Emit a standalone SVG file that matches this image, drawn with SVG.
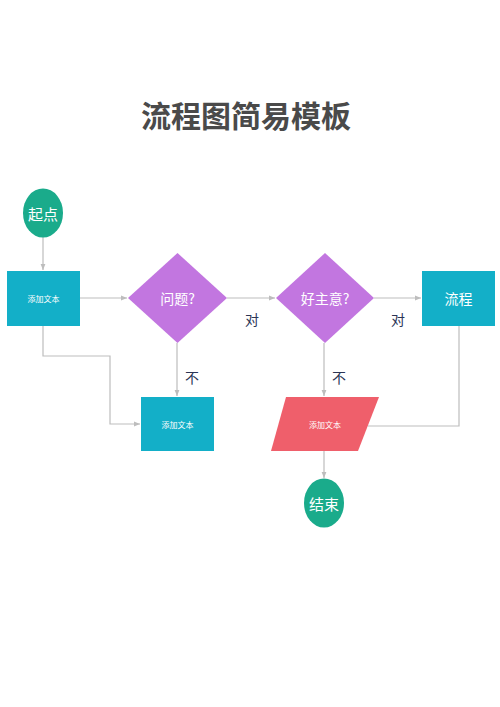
<svg xmlns="http://www.w3.org/2000/svg" width="500" height="707" viewBox="0 0 500 707">
<style>
text{font-family:"Noto Sans CJK SC","Noto Sans",sans-serif;text-anchor:middle;dominant-baseline:central}
.w{fill:#fff}
.lbl{fill:#2b3555;font-size:14px}
.c{fill:none;stroke:#bdbdbd;stroke-width:1.2}
.teal{fill:#13afc8}
.pur{fill:#c276e0}
.grn{fill:#1aab8b}
.red{fill:#ef5f6b}
</style>
<defs>
<marker id="ah" viewBox="0 0 10 10" refX="10" refY="5" markerWidth="6" markerHeight="6" orient="auto" markerUnits="userSpaceOnUse">
<path d="M0,1 L10,5 L0,9 z" fill="#bdbdbd"/>
</marker>
</defs>
<rect width="500" height="707" fill="#fff"/>
<text x="246" y="114" font-size="30" font-weight="bold" fill="#4a4a4a">流程图简易模板</text>
<g id="connectors">
<path class="c" d="M43,237 V270" marker-end="url(#ah)"/>
<path class="c" d="M80,298 H127" marker-end="url(#ah)"/>
<path class="c" d="M227,298 H275" marker-end="url(#ah)"/>
<path class="c" d="M374,298 H421" marker-end="url(#ah)"/>
<path class="c" d="M177,343 V396" marker-end="url(#ah)"/>
<path class="c" d="M324,343 V396" marker-end="url(#ah)"/>
<path class="c" d="M43,326 V356 H110 V424 H140" marker-end="url(#ah)"/>
<path class="c" d="M459,326 V426 H368"/>
<path class="c" d="M324,451 V478" marker-end="url(#ah)"/>
<text class="lbl" x="252" y="319">对</text>
<text class="lbl" x="398" y="319">对</text>
<text class="lbl" x="192" y="377">不</text>
<text class="lbl" x="339" y="377">不</text>
</g>
<g id="start">
<ellipse class="grn" cx="43" cy="213" rx="20" ry="24.5"/>
<text class="w" x="43" y="213" font-size="15">起点</text>
</g>
<g id="box1">
<rect class="teal" x="7" y="271" width="73" height="55"/>
<text class="w" x="43.5" y="298" font-size="8">添加文本</text>
</g>
<g id="q1">
<polygon class="pur" points="128,298 177.5,253 227,298 177.5,343"/>
<text class="w" x="177.5" y="298" font-size="14">问题?</text>
</g>
<g id="q2">
<polygon class="pur" points="276,298 325,253 374,298 325,343"/>
<text class="w" x="325" y="298" font-size="14">好主意?</text>
</g>
<g id="flow">
<rect class="teal" x="422" y="271" width="73" height="55"/>
<text class="w" x="458.5" y="298" font-size="14">流程</text>
</g>
<g id="box2">
<rect class="teal" x="141" y="397" width="73" height="54"/>
<text class="w" x="177.5" y="424" font-size="8">添加文本</text>
</g>
<g id="para">
<polygon class="red" points="286,397 379,397 358,451 271,451"/>
<text class="w" x="325" y="424" font-size="8">添加文本</text>
</g>
<g id="end">
<ellipse class="grn" cx="324" cy="503" rx="20" ry="24.5"/>
<text class="w" x="324" y="503" font-size="15">结束</text>
</g>
</svg>
